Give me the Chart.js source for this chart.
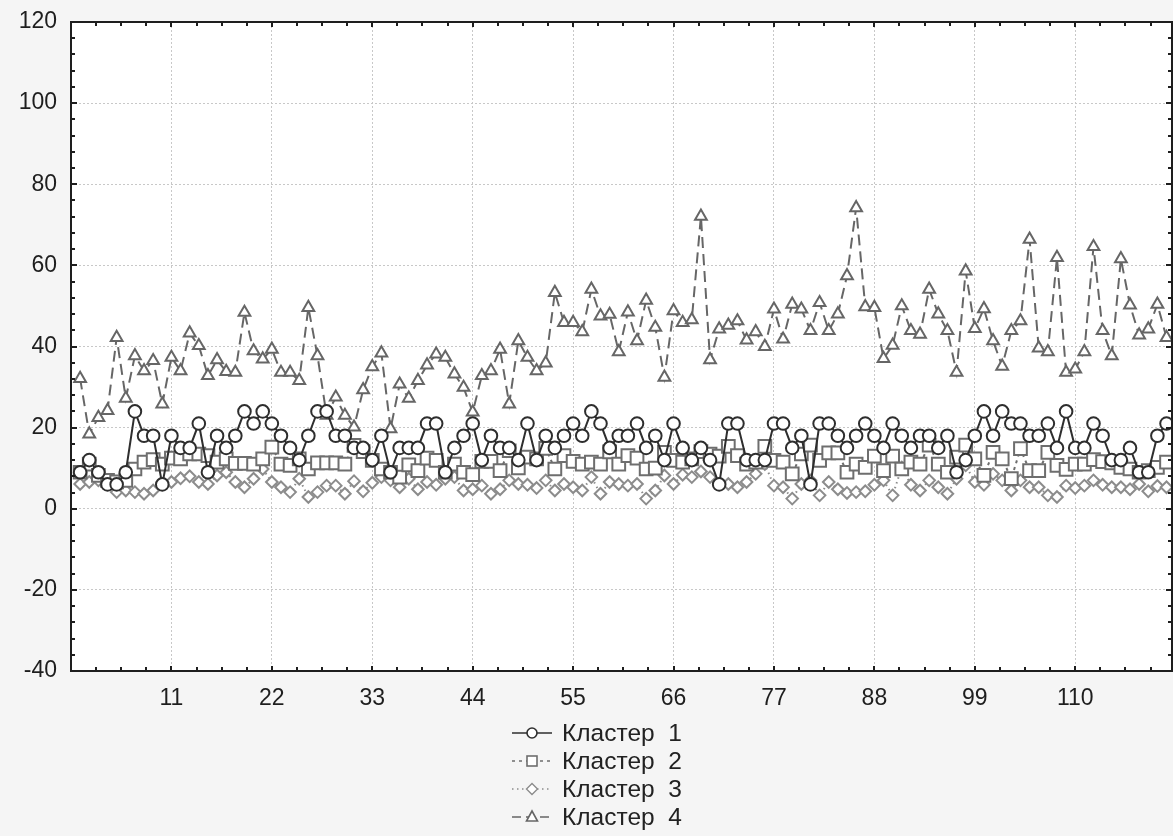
<!DOCTYPE html>
<html>
<head>
<meta charset="utf-8">
<script src="https://cdn.jsdelivr.net/npm/chart.js@4.4.0/dist/chart.umd.min.js"></script>
<style>
  body { margin: 0; background: #f5f5f5; overflow: hidden; }
  #wrap { position: relative; width: 1173px; height: 836px; }
  #legend { position: absolute; left: 512px; top: 719px; font: 24.5px "Liberation Sans", Arial, sans-serif; color: #222; }
  .row { display: flex; align-items: center; height: 28px; white-space: pre; }
  .row svg { margin-right: 10px; }
</style>
</head>
<body>
<div id="wrap">
  <canvas id="chart" width="1173" height="836"></canvas>
  <div id="legend"></div>
</div>
<script>
const seriesNames = ["Кластер  1", "Кластер  2", "Кластер  3", "Кластер  4"];

const cluster1 = [9,12,9,6,6,9,24,18,18,6, 18,15,15,21,9,18,15,18,24,21,
  24,21,18,15,12,18,24,24,18,18, 15,15,12,18,9,15,15,15,21,21,
  9,15,18,21,12,18,15,15,12,21, 12,18,15,18,21,18,24,21,15,18,
  18,21,15,18,12,21,15,12,15,12, 6,21,21,12,12,12,21,21,15,18,
  6,21,21,18,15,18,21,18,15,21, 18,15,18,18,15,18,9,12,18,24,
  18,24,21,21,18,18,21,15,24,15, 15,21,18,12,12,15,9,9,18,21];

const cluster2 = [9,11,8.2,7,6.6,7,9.8,11.5,12.1,11,12.5,12.3,13.5,13.5,13.1,11.5,12.3,11.2,11.2,
  11,12.3,15.2,11,10.7,12.3,9.8,11.3,11.3,11.3,11,15.6,14.1,11.9,9.8,9,7.8,10.8,9.4,12.5,
  11.9,9,11,9,8.4,11.7,11.7,9.4,14.3,10.1,12.7,12.3,14.9,9.8,13.1,11.7,11,11.5,11,14,
  11,13.1,12.5,9.8,10,13.9,11.9,11.5,12.3,14.1,13.5,13,15.4,13.1,11,11.5,15.4,11.9,11.5,8.6,
  13.5,15.7,11.9,13.8,13.8,9,11,10.2,13,9.4,13,9.8,11.5,11,15.7,11,9,12.7,15.7,
  12.3,8.2,13.9,12.3,7.4,14.8,9.4,9.4,13.9,10.7,9.7,11,11,12.1,11.6,11.3,10.2,9.8,9,9.4,10.2,11.5];

const cluster3 = [6.1,6.6,7,6.1,4.1,4.5,4.1,3.7,4.5,6.1,6.6,7.5,8,6.6,6.1,8.2,9,6.6,5.3,
  7.4,9.8,6.6,5.3,4.1,7.4,2.9,4.1,5.7,5.7,3.7,6.8,4.3,6.4,7.8,7,5.3,7.4,4.8,6.6,
  5.9,7.4,7.8,4.5,4.8,5.7,3.7,4.8,7,6.1,5.9,5.1,7,4.5,6.1,5.3,4.5,7.8,3.7,6.6,
  6.1,5.7,6.1,2.5,4.5,8.2,6.1,8.4,7.8,9.2,7.8,6.1,6.1,5.3,6.6,8.6,11,5.7,5.3,2.5,
  6.1,7,3.3,6.6,4.8,3.9,4.1,4.3,5.9,7,3.3,10.2,5.9,4.5,7,5.3,3.7,7.4,10.7,
  6.6,5.9,8.6,7,4.5,7,5.3,5.3,3.3,2.9,5.7,5.1,5.7,7,5.9,5.3,5.3,4.8,6.1,4.3,5.6,5.3];

const cluster4 = [32.1,18.4,22.5,24.2,42.2,27.2,37.7,34,36.5,25.8,37.3,34,43.3,40.2,32.8,36.7,33.8,33.6,48.4,
  38.9,36.9,39.3,33.6,33.6,31.6,49.6,37.7,23,27.5,23,20.1,29.3,35,38.4,19.7,30.7,27.2,31.6,35.4,
  38.1,37.3,33.2,29.9,23.8,32.8,34,39.3,25.8,41.4,37.3,34,35.9,53.3,45.9,45.9,43.6,54.1,47.5,47.9,
  38.7,48.5,41.4,51.4,44.7,32.4,48.8,45.9,46.6,72.1,36.7,44.3,45.2,46.3,41.6,43.6,40,49.2,41.8,50.4,
  49.2,43.9,50.8,43.9,48,57.4,74.2,49.8,49.6,37,40.3,50,43.9,43,54.1,48,43.9,33.6,58.6,
  44.4,49.3,41.4,35.1,43.9,46.3,66.4,39.6,38.7,61.9,33.6,34.4,38.7,64.6,43.9,37.7,61.6,50.2,42.8,44.3,50.4,42.2];

const xTicks = [11, 22, 33, 44, 55, 66, 77, 88, 99, 110];
const yTicks = [-40, -20, 0, 20, 40, 60, 80, 100, 120];
const xMinorStep = 2.75;
const yMinorStep = 4;

const styles = [
  { color: "#2e2e2e", dash: [], point: "circle", radius: 6.3, pdash: "" },
  { color: "#6e6e6e", dash: [3, 4], point: "rect", radius: 9, pdash: "3,4" },
  { color: "#8c8c8c", dash: [1.5, 3.5], point: "rectRot", radius: 5.8, pdash: "1.5,3.5" },
  { color: "#666666", dash: [11, 6], point: "triangle", radius: 6.8, pdash: "9,5" }
];

function toPoints(arr) {
  return arr.map((v, i) => ({ x: i + 1, y: v }));
}

const allSeries = [cluster1, cluster2, cluster3, cluster4];
const datasets = allSeries.map((arr, k) => ({
  label: seriesNames[k],
  data: toPoints(arr),
  borderColor: styles[k].color,
  borderWidth: 2,
  borderDash: styles[k].dash,
  pointStyle: styles[k].point,
  pointRadius: styles[k].radius,
  pointBorderWidth: 2,
  pointBorderColor: styles[k].color,
  pointBackgroundColor: "#ffffff",
  tension: 0,
  order: k
}));

// white plot area + box with inward ticks on all sides
const frame = {
  id: "frame",
  beforeDraw(chart) {
    const { ctx, chartArea: a } = chart;
    ctx.save();
    ctx.fillStyle = "#ffffff";
    ctx.fillRect(a.left, a.top, a.right - a.left, a.bottom - a.top);
    ctx.restore();
  },
  afterDraw(chart) {
    const { ctx, chartArea: a, scales } = chart;
    ctx.save();
    ctx.strokeStyle = "#1e1e1e";
    ctx.lineWidth = 2;
    ctx.strokeRect(a.left, a.top, a.right - a.left, a.bottom - a.top);
    ctx.beginPath();
    for (let v = scales.y.min; v <= scales.y.max + 0.01; v += yMinorStep) {
      const py = Math.round(scales.y.getPixelForValue(v));
      const len = v % 20 === 0 ? 6 : 4;
      ctx.moveTo(a.left, py); ctx.lineTo(a.left + len, py);
      ctx.moveTo(a.right, py); ctx.lineTo(a.right - len, py);
    }
    for (let v = 0; v <= scales.x.max; v += xMinorStep) {
      const px = Math.round(scales.x.getPixelForValue(v));
      const len = Math.abs(v % 11) < 0.01 ? 5 : 4;
      ctx.moveTo(px, a.bottom); ctx.lineTo(px, a.bottom - len);
      ctx.moveTo(px, a.top); ctx.lineTo(px, a.top + len);
    }
    ctx.stroke();
    ctx.restore();
  }
};

const tickFont = { family: "'Liberation Sans', Arial, sans-serif", size: 23 };

function noPad(s) {
  s.paddingTop = 0; s.paddingBottom = 0; s.paddingLeft = 0; s.paddingRight = 0;
}

new Chart(document.getElementById("chart"), {
  type: "line",
  data: { datasets },
  options: {
    responsive: false,
    animation: false,
    devicePixelRatio: 1,
    layout: { autoPadding: false, padding: { top: 22, right: 1, bottom: 124, left: 0 } },
    plugins: { legend: { display: false }, tooltip: { enabled: false } },
    scales: {
      x: {
        type: "linear",
        min: 0,
        max: 120.6,
        afterBuildTicks: (s) => { s.ticks = xTicks.map((v) => ({ value: v })); },
        afterFit: (s) => { s.height = 41; noPad(s); },
        ticks: { color: "#1e1e1e", font: tickFont, padding: 14, maxRotation: 0, autoSkip: false },
        grid: { color: "#c8c8c8", lineWidth: 1, drawTicks: false },
        border: { display: false, dash: [2, 2] }
      },
      y: {
        min: -40,
        max: 120,
        afterBuildTicks: (s) => { s.ticks = yTicks.map((v) => ({ value: v })); },
        afterFit: (s) => { s.width = 71; noPad(s); },
        ticks: { color: "#1e1e1e", font: tickFont, padding: 14 },
        grid: { color: "#c8c8c8", lineWidth: 1, drawTicks: false },
        border: { display: false, dash: [2, 2] }
      }
    }
  },
  plugins: [frame]
});

// legend as html, one row per cluster
function sampleSvg(s) {
  let mark = "";
  if (s.point === "circle") mark = '<circle cx="20" cy="10" r="5" fill="#fff" stroke="' + s.color + '" stroke-width="1.6"/>';
  if (s.point === "rect") mark = '<rect x="15" y="5" width="10" height="10" fill="#fff" stroke="' + s.color + '" stroke-width="1.6"/>';
  if (s.point === "rectRot") mark = '<path d="M20 4.5 L25.5 10 L20 15.5 L14.5 10 Z" fill="#fff" stroke="' + s.color + '" stroke-width="1.4"/>';
  if (s.point === "triangle") mark = '<path d="M20 4 L25.5 14 L14.5 14 Z" fill="#fff" stroke="' + s.color + '" stroke-width="1.6"/>';
  return '<svg width="40" height="20"><line x1="0" y1="10" x2="40" y2="10" stroke="' + s.color +
    '" stroke-width="1.6" stroke-dasharray="' + s.pdash + '"/>' + mark + "</svg>";
}

const legend = document.getElementById("legend");
seriesNames.forEach((name, k) => {
  const row = document.createElement("div");
  row.className = "row";
  row.innerHTML = sampleSvg(styles[k]) + "<span>" + name + "</span>";
  legend.appendChild(row);
});
</script>
</body>
</html>
